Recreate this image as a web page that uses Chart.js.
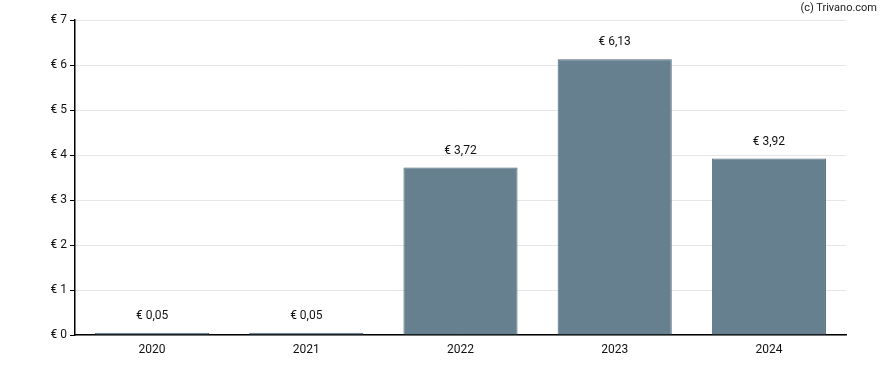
<!DOCTYPE html>
<html>
<head>
<meta charset="utf-8">
<script src="https://cdn.jsdelivr.net/npm/chart.js@4/dist/chart.umd.min.js"></script>
<style>
  html, body { margin: 0; padding: 0; background: #fff; }
  #wrap { position: relative; width: 888px; height: 370px; }
  #credit { position: absolute; right: 11px; top: 1px; font: 11px Roboto, sans-serif; color: #222; }
</style>
</head>
<body>
<div id="wrap">
  <canvas id="chart" width="888" height="370"></canvas>
  <div id="credit">(c) Trivano.com</div>
</div>
<script>
// Jaren en dividend per aandeel
const years = ['2020', '2021', '2022', '2023', '2024'];
const values = [0.05, 0.05, 3.72, 6.13, 3.92];
const yTicks = [0, 1, 2, 3, 4, 5, 6, 7];

const fmt = v => '€ ' + v.toFixed(2).replace('.', ',');

// waarde boven elke staaf
const valueLabels = {
    id: 'valueLabels',
    afterDatasetsDraw(chart) {
        const ctx = chart.ctx;
        const meta = chart.getDatasetMeta(0);
        ctx.save();
        ctx.font = '12px Roboto, sans-serif';
        ctx.fillStyle = '#111';
        ctx.textAlign = 'center';
        ctx.textBaseline = 'middle';
        meta.data.forEach((bar, i) => {
            ctx.fillText(fmt(values[i]), bar.x, bar.y - 17);
        });
        ctx.restore();
    }
};

new Chart(document.getElementById('chart'), {
    type: 'bar',
    data: {
        labels: years,
        datasets: [{
            data: values,
            backgroundColor: '#66808f',
            borderColor: '#4d6778',
            borderWidth: 1,
            barPercentage: 0.74,
            categoryPercentage: 1
        }]
    },
    options: {
        responsive: false,
        animation: false,
        layout: { padding: { top: 20, right: 42, bottom: 0, left: 0 } },
        plugins: { legend: { display: false }, tooltip: { enabled: false } },
        scales: {
            x: {
                grid: { display: false, drawTicks: true, tickLength: 4, color: '#000' },
                border: { color: '#000', width: 1.5 },
                ticks: { color: '#111', font: { family: 'Roboto', size: 12 }, padding: 4 },
                afterFit: s => { s.height = 35; }
            },
            y: {
                min: 0,
                max: 7,
                afterBuildTicks: s => { s.ticks = yTicks.map(v => ({ value: v })); },
                grid: { color: '#e6e6e6', tickColor: '#000', tickLength: 5 },
                border: { color: '#000', width: 1.5 },
                ticks: { color: '#111', font: { family: 'Roboto', size: 12 }, padding: 3, callback: v => '€ ' + v },
                afterFit: s => { s.width = 75; }
            }
        }
    },
    plugins: [valueLabels]
});
</script>
</body>
</html>
